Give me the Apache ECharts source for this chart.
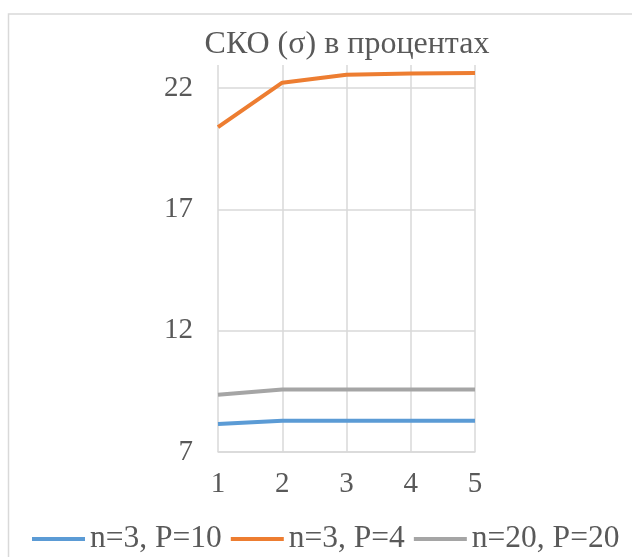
<!DOCTYPE html>
<html><head><meta charset="utf-8">
<script src="https://cdn.jsdelivr.net/npm/echarts@6/dist/echarts.min.js"></script>
<style>html,body{margin:0;padding:0;background:#fff}#c{width:632px;height:557px}</style>
</head><body><div id="c"></div>
<script>
const categories = ['1','2','3','4','5'];
const seriesNames = ['n=3, P=10','n=3, P=4','n=20, P=20'];
const blueValues = [8.15, 8.29, 8.29, 8.29, 8.29];
const orangeValues = [20.39, 22.22, 22.55, 22.6, 22.62];
const grayValues = [9.36, 9.58, 9.58, 9.58, 9.58];
const colors = ['#5b9bd5','#ed7d31','#a5a5a5'];
const font = '"Liberation Serif","Times New Roman",serif';

const chart = echarts.init(document.getElementById('c'));
const mk = (name, data, color) => ({
  name, type:'line', data, symbol:'none', smooth:false,
  lineStyle:{color, width:4}, itemStyle:{color}
});
chart.setOption({
  animation:false,
  graphic:[{type:'rect', shape:{x:8.5,y:14,width:700,height:700}, style:{fill:'none', stroke:'#d9d9d9', lineWidth:1.5}, silent:true}],
  title:{text:'СКО (σ) в процентах', left:342, textAlign:'center', top:24,
    textStyle:{fontFamily:font, fontSize:32, fontWeight:'normal', color:'#595959'}},
  grid:{left:218, right:157, top:65, bottom:105, containLabel:false},
  legend:{top:523, left:32, width:640, padding:0, icon:'rect', itemWidth:53, itemHeight:4, itemGap:9,
    textStyle:{fontFamily:font, fontSize:31.5, color:'#595959'}, data:seriesNames},
  xAxis:{type:'category', data:categories, boundaryGap:false,
    axisLine:{show:true, lineStyle:{color:'#d9d9d9', width:1.5}},
    axisTick:{show:false},
    axisLabel:{fontFamily:font, fontSize:29, color:'#595959', margin:18},
    splitLine:{show:true, lineStyle:{color:'#d9d9d9', width:1.5}}},
  yAxis:{type:'value', min:7, max:22.95, interval:5,
    axisLine:{show:false}, axisTick:{show:false},
    axisLabel:{fontFamily:font, fontSize:29, color:'#595959', margin:25, showMaxLabel:false},
    splitLine:{show:true, showMaxLine:false, lineStyle:{color:'#d9d9d9', width:1.5}}},
  series:[mk(seriesNames[0], blueValues, colors[0]), mk(seriesNames[1], orangeValues, colors[1]), mk(seriesNames[2], grayValues, colors[2])]
});
</script></body></html>
